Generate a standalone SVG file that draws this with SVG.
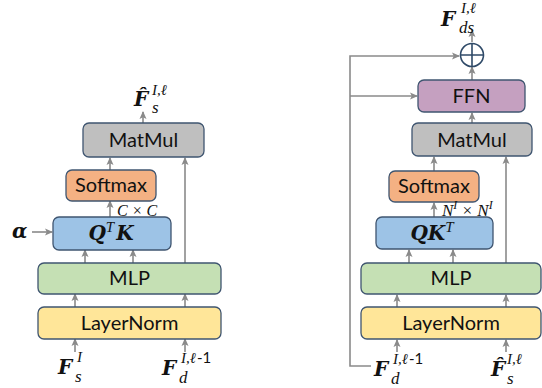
<svg xmlns="http://www.w3.org/2000/svg" width="542" height="388" viewBox="0 0 542 388">
  <defs>
    <marker id="arr" viewBox="0 0 8 8" refX="7" refY="4" markerWidth="8" markerHeight="8" markerUnits="userSpaceOnUse" orient="auto">
      <path d="M0,0.5 L8,4 L0,7.5 L1.8,4 z" fill="#8a8a8a"/>
    </marker>
    <style>
      .box { stroke: #3f5570; stroke-width: 1.3; }
      .lbl { font-family: Lato, "Liberation Sans", sans-serif; font-size: 20px; fill: #111; text-anchor: middle; }
      .ar { stroke: #8a8a8a; stroke-width: 1.6; fill: none; marker-end: url(#arr); }
      .m { font-family: "Liberation Serif", "DejaVu Serif", serif; fill: #111; }
      .mb { font-family: "DejaVu Serif", "Liberation Serif", serif; font-weight: bold; font-style: italic; fill: #111; }
      .mi { font-style: italic; }
    </style>
  </defs>

  <!-- connectors -->
  <g id="connectors">
    <!-- left block -->
    <line class="ar" x1="75" y1="352" x2="75" y2="339"/>
    <line class="ar" x1="185" y1="352" x2="185" y2="339"/>
    <line class="ar" x1="75" y1="307" x2="75" y2="294"/>
    <line class="ar" x1="185" y1="307" x2="185" y2="294"/>
    <line class="ar" x1="85" y1="263" x2="85" y2="250"/>
    <line class="ar" x1="133" y1="263" x2="133" y2="250"/>
    <line class="ar" x1="185" y1="263" x2="185" y2="158"/>
    <line class="ar" x1="110" y1="217" x2="110" y2="201"/>
    <line class="ar" x1="110" y1="170" x2="110" y2="158"/>
    <line class="ar" x1="143" y1="123" x2="143" y2="112"/>
    <line class="ar" x1="32" y1="232" x2="52" y2="232"/>
    <!-- right block -->
    <line class="ar" x1="397" y1="352" x2="397" y2="340"/>
    <line class="ar" x1="506" y1="352" x2="506" y2="340"/>
    <line class="ar" x1="397" y1="307" x2="397" y2="295"/>
    <line class="ar" x1="506" y1="307" x2="506" y2="295"/>
    <line class="ar" x1="409" y1="263" x2="409" y2="250"/>
    <line class="ar" x1="453" y1="263" x2="453" y2="250"/>
    <line class="ar" x1="506" y1="263" x2="506" y2="157"/>
    <line class="ar" x1="434" y1="217" x2="434" y2="203"/>
    <line class="ar" x1="434" y1="171" x2="434" y2="157"/>
    <line class="ar" x1="472" y1="123" x2="472" y2="113"/>
    <line class="ar" x1="472" y1="80" x2="472" y2="67"/>
    <line class="ar" x1="472" y1="42" x2="472" y2="30"/>
    <path class="ar" d="M371,366 H350 V56 H459"/>
    <line class="ar" x1="350" y1="96" x2="417" y2="96"/>
  </g>

  <!-- left block nodes -->
  <g id="l-layernorm">
    <rect class="box" x="38" y="307" width="183" height="32" rx="6" fill="#ffe699"/>
    <text class="lbl" x="129.5" y="330">LayerNorm</text>
  </g>
  <g id="l-mlp">
    <rect class="box" x="38" y="263" width="183" height="31" rx="6" fill="#c5e0b4"/>
    <text class="lbl" x="129.5" y="285">MLP</text>
  </g>
  <g id="l-qk">
    <rect class="box" x="53" y="217" width="118" height="33" rx="6" fill="#9dc3e6"/>
    <text class="mb" x="111" y="240" font-size="20" text-anchor="middle">Q<tspan class="m mi" font-weight="normal" font-size="15" dy="-8">T</tspan><tspan dy="8" dx="2">K</tspan></text>
  </g>
  <g id="l-softmax">
    <rect class="box" x="66" y="170" width="90" height="31" rx="6" fill="#f4b183"/>
    <text class="lbl" x="111" y="192">Softmax</text>
  </g>
  <g id="l-matmul">
    <rect class="box" x="83" y="123" width="121" height="34" rx="6" fill="#bfbfbf"/>
    <text class="lbl" x="143.5" y="147">MatMul</text>
  </g>

  <!-- right block nodes -->
  <g id="r-layernorm">
    <rect class="box" x="361" y="307" width="180" height="32" rx="6" fill="#ffe699"/>
    <text class="lbl" x="451" y="330">LayerNorm</text>
  </g>
  <g id="r-mlp">
    <rect class="box" x="361" y="263" width="180" height="31" rx="6" fill="#c5e0b4"/>
    <text class="lbl" x="451" y="285">MLP</text>
  </g>
  <g id="r-qk">
    <rect class="box" x="376" y="217" width="117" height="32" rx="6" fill="#9dc3e6"/>
    <text class="mb" x="432" y="240" font-size="20" text-anchor="middle">QK<tspan class="m mi" font-weight="normal" font-size="15" dy="-8">T</tspan></text>
  </g>
  <g id="r-softmax">
    <rect class="box" x="389" y="171" width="90" height="31" rx="6" fill="#f4b183"/>
    <text class="lbl" x="434" y="193">Softmax</text>
  </g>
  <g id="r-matmul">
    <rect class="box" x="412" y="123" width="120" height="33" rx="6" fill="#bfbfbf"/>
    <text class="lbl" x="472" y="147">MatMul</text>
  </g>
  <g id="r-ffn">
    <rect class="box" x="418" y="80" width="107" height="32" rx="6" fill="#c5a0c0"/>
    <text class="lbl" x="471.5" y="103">FFN</text>
  </g>
  <g id="r-add">
    <circle cx="472" cy="55" r="11.5" fill="#fff" stroke="#2f4a68" stroke-width="1.6"/>
    <path d="M460.5,55 H483.5 M472,43.5 V66.5" stroke="#2f4a68" stroke-width="1.6"/>
  </g>

  <!-- math labels -->
  <g id="l-out-label">
    <text class="mb" x="134" y="106" font-size="20">F&#x0302;</text>
    <text class="m mi" x="152" y="95" font-size="15">I,ℓ</text>
    <text class="m mi" x="152" y="113" font-size="17">s</text>
  </g>
  <g id="l-cc-label">
    <text class="m mi" x="117" y="216" font-size="16">C × C</text>
  </g>
  <g id="l-alpha">
    <text class="mb" x="12" y="238" font-size="20">α</text>
  </g>
  <g id="l-in-fs">
    <text class="mb" x="58" y="374" font-size="20">F</text>
    <text class="m mi" x="77" y="362" font-size="15">I</text>
    <text class="m mi" x="75" y="382" font-size="17">s</text>
  </g>
  <g id="l-in-fd">
    <text class="mb" x="162" y="375" font-size="20">F</text>
    <text class="m mi" x="181" y="363" font-size="15">I,ℓ</text>
    <text x="197" y="363" font-size="15" font-family="Lato, 'Liberation Sans', sans-serif" fill="#111">-1</text>
    <text class="m mi" x="179" y="383" font-size="17">d</text>
  </g>

  <g id="r-out-label">
    <text class="mb" x="441" y="26" font-size="20">F</text>
    <text class="m mi" x="461" y="13" font-size="15">I,ℓ</text>
    <text class="m mi" x="459" y="33" font-size="17">ds</text>
  </g>
  <g id="r-nn-label">
    <text class="m mi" x="442" y="216" font-size="17">N<tspan font-size="12" dy="-7">I</tspan><tspan dy="7"> × N</tspan><tspan font-size="12" dy="-7">I</tspan></text>
  </g>
  <g id="r-in-fd">
    <text class="mb" x="374" y="376" font-size="20">F</text>
    <text class="m mi" x="393" y="364" font-size="15">I,ℓ</text>
    <text x="409" y="364" font-size="15" font-family="Lato, 'Liberation Sans', sans-serif" fill="#111">-1</text>
    <text class="m mi" x="391" y="384" font-size="17">d</text>
  </g>
  <g id="r-in-fs">
    <text class="mb" x="491" y="376" font-size="20">F&#x0302;</text>
    <text class="m mi" x="507" y="364" font-size="15">I,ℓ</text>
    <text class="m mi" x="507" y="384" font-size="17">s</text>
  </g>
</svg>
